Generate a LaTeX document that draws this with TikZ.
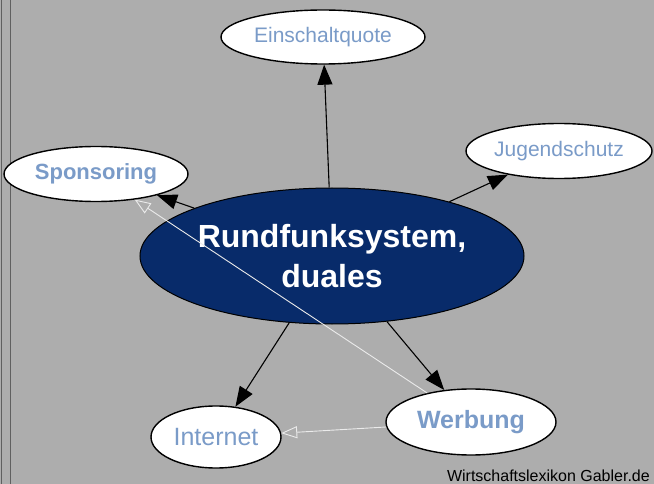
\documentclass[tikz,border=0pt]{standalone}
\usepackage{fontspec}
\setmainfont{Liberation Sans}
\usetikzlibrary{shapes.geometric,arrows.meta}
\definecolor{panel}{RGB}{173,173,173}
\definecolor{navy}{RGB}{8,43,106}
\definecolor{lblue}{RGB}{122,155,200}

\begin{document}
\begin{tikzpicture}[x=1pt,y=-1pt,
    leaf/.style={ellipse,draw=black,line width=1.4pt,fill=white,inner sep=0pt,
      text=lblue,font=\fontsize{21}{25}\selectfont},
    hub/.style={ellipse,draw=black,line width=1pt,fill=navy,inner sep=0pt,
      text=white,align=center,font=\bfseries\fontsize{32}{40}\selectfont},
    link/.style={-{Triangle[length=20pt,width=15pt]},line width=1.1pt},
    hollow/.style={-{Triangle[open,length=16pt,width=12pt]},color=white!92!black,
      double=panel,double distance=2.2pt,line width=0.9pt}]
  \fill[panel] (0,0) rectangle (654,484);
  \useasboundingbox (0,0) rectangle (654,484);
  \draw[gray!75!black,line width=1pt] (1.5,0) -- (1.5,484) (10,0) -- (10,484);

  \node[hub,minimum width=384pt,minimum height=136pt] (rund) at (332,256) {Rundfunksystem,\\duales};
  \node[leaf,minimum width=204pt,minimum height=54pt] (quote) at (323,37) {Einschaltquote};
  \node[leaf,minimum width=186pt,minimum height=55pt] (jugend) at (559,151) {Jugendschutz};
  \node[leaf,minimum width=184pt,minimum height=55pt,
    font=\bfseries\fontsize{22}{26}\selectfont] (spons) at (96,174) {Sponsoring};
  \node[leaf,minimum width=130pt,minimum height=62pt,
    font=\fontsize{25}{30}\selectfont] (net) at (216,437) {Internet};
  \node[leaf,minimum width=170pt,minimum height=66pt,
    font=\bfseries\fontsize{25}{30}\selectfont] (werb) at (471,422) {Werbung};
  \node[anchor=base east,inner sep=0pt,font=\fontsize{16}{19}\selectfont] (src) at (650,481) {Wirtschaftslexikon Gabler.de};

  \path[link]
    (rund) edge (quote)
           edge (jugend)
           edge (spons)
           edge (net)
           edge (werb);

  \path[hollow]
    (werb) edge (spons)
           edge (net);
\end{tikzpicture}
\end{document}
